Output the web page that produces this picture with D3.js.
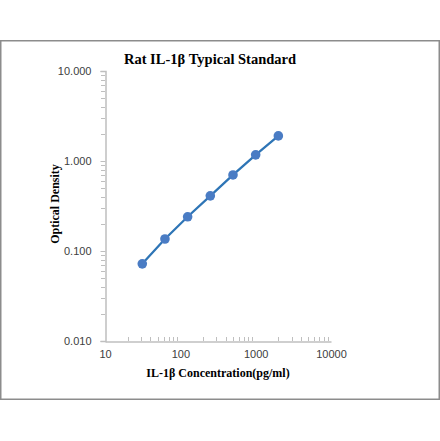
<!DOCTYPE html>
<meta charset="utf-8">
<style>
body { margin: 0; background: #fff; }
.tick text { font-family: "Liberation Sans", Arial, sans-serif; font-size: 11px; fill: #404040; }
</style>
<svg width="440" height="441"></svg>
<script src="https://d3js.org/d3.v7.min.js"></script>
<script>

// chart data
var concentration = [31.25, 62.5, 125, 250, 500, 1000, 2000];
var od = [0.072, 0.136, 0.24, 0.41, 0.70, 1.17, 1.90];
var xTicks = [10, 100, 1000, 10000];
var yTicks = [0.01, 0.1, 1, 10];

var svg = d3.select("svg");

// outer frame
svg.append("rect")
    .attr("x", 0.75).attr("y", 40.75)
    .attr("width", 438.5).attr("height", 358.5)
    .attr("fill", "none")
    .attr("stroke", "#8c8c8c")
    .attr("stroke-width", 1.5);

var x = d3.scaleLog().domain([10, 10000]).range([105, 331]);
var y = d3.scaleLog().domain([0.01, 10]).range([341, 71]);

function minors(domain) {
  var out = [];
  for (var d = domain[0]; d < domain[1]; d *= 10)
    for (var k = 2; k <= 9; k++) out.push(d * k);
  return out;
}

// minor ticks
svg.append("g").selectAll("line")
  .data(minors(y.domain()))
  .enter().append("line")
    .attr("x1", 101).attr("x2", 105)
    .attr("y1", function(d) { return Math.round(y(d)) + 0.5; })
    .attr("y2", function(d) { return Math.round(y(d)) + 0.5; })
    .attr("stroke", "#bfbfbf");

svg.append("g").selectAll("line")
  .data(minors(x.domain()))
  .enter().append("line")
    .attr("y1", 337).attr("y2", 341)
    .attr("x1", function(d) { return Math.round(x(d)) + 0.5; })
    .attr("x2", function(d) { return Math.round(x(d)) + 0.5; })
    .attr("stroke", "#bfbfbf");

// axes
var yAxis = svg.append("g")
    .attr("transform", "translate(105.5,0)")
    .call(d3.axisLeft(y).tickValues(yTicks).tickFormat(d3.format(".3f")).tickSize(5).tickPadding(9));
var xAxis = svg.append("g")
    .attr("transform", "translate(0,341.5)")
    .call(d3.axisBottom(x).tickValues(xTicks).tickFormat(d3.format("d")).tickSize(0).tickPadding(9));

[yAxis, xAxis].forEach(function(a) {
  a.select(".domain").attr("stroke", "#bfbfbf").attr("stroke-width", 1.5);
  a.selectAll(".tick line").attr("stroke", "#bfbfbf");
});

// line and points
var pts = concentration.map(function(c, i) { return [c, od[i]]; });
svg.append("path")
    .datum(pts)
    .attr("fill", "none")
    .attr("stroke", "#2e75b6")
    .attr("stroke-width", 2.25)
    .attr("d", d3.line().x(function(d) { return x(d[0]); }).y(function(d) { return y(d[1]); }));

svg.append("g").selectAll("circle")
  .data(pts)
  .enter().append("circle")
    .attr("cx", function(d) { return x(d[0]); })
    .attr("cy", function(d) { return y(d[1]); })
    .attr("r", 4.8)
    .attr("fill", "#4a7cc4");

// titles
svg.append("text")
    .attr("x", 210).attr("y", 64)
    .attr("text-anchor", "middle")
    .attr("font-family", "Liberation Serif, Times New Roman, serif")
    .attr("font-weight", "bold")
    .attr("font-size", 14.5)
    .attr("fill", "#000")
    .text("Rat IL-1β Typical Standard");

svg.append("text")
    .attr("x", 218).attr("y", 377)
    .attr("text-anchor", "middle")
    .attr("font-family", "Liberation Serif, Times New Roman, serif")
    .attr("font-weight", "bold")
    .attr("font-size", 12)
    .attr("fill", "#000")
    .text("IL-1β Concentration(pg/ml)");

svg.append("text")
    .attr("transform", "translate(59,204) rotate(-90)")
    .attr("text-anchor", "middle")
    .attr("font-family", "Liberation Serif, Times New Roman, serif")
    .attr("font-weight", "bold")
    .attr("font-size", 12)
    .attr("fill", "#000")
    .text("Optical Density");

</script>
